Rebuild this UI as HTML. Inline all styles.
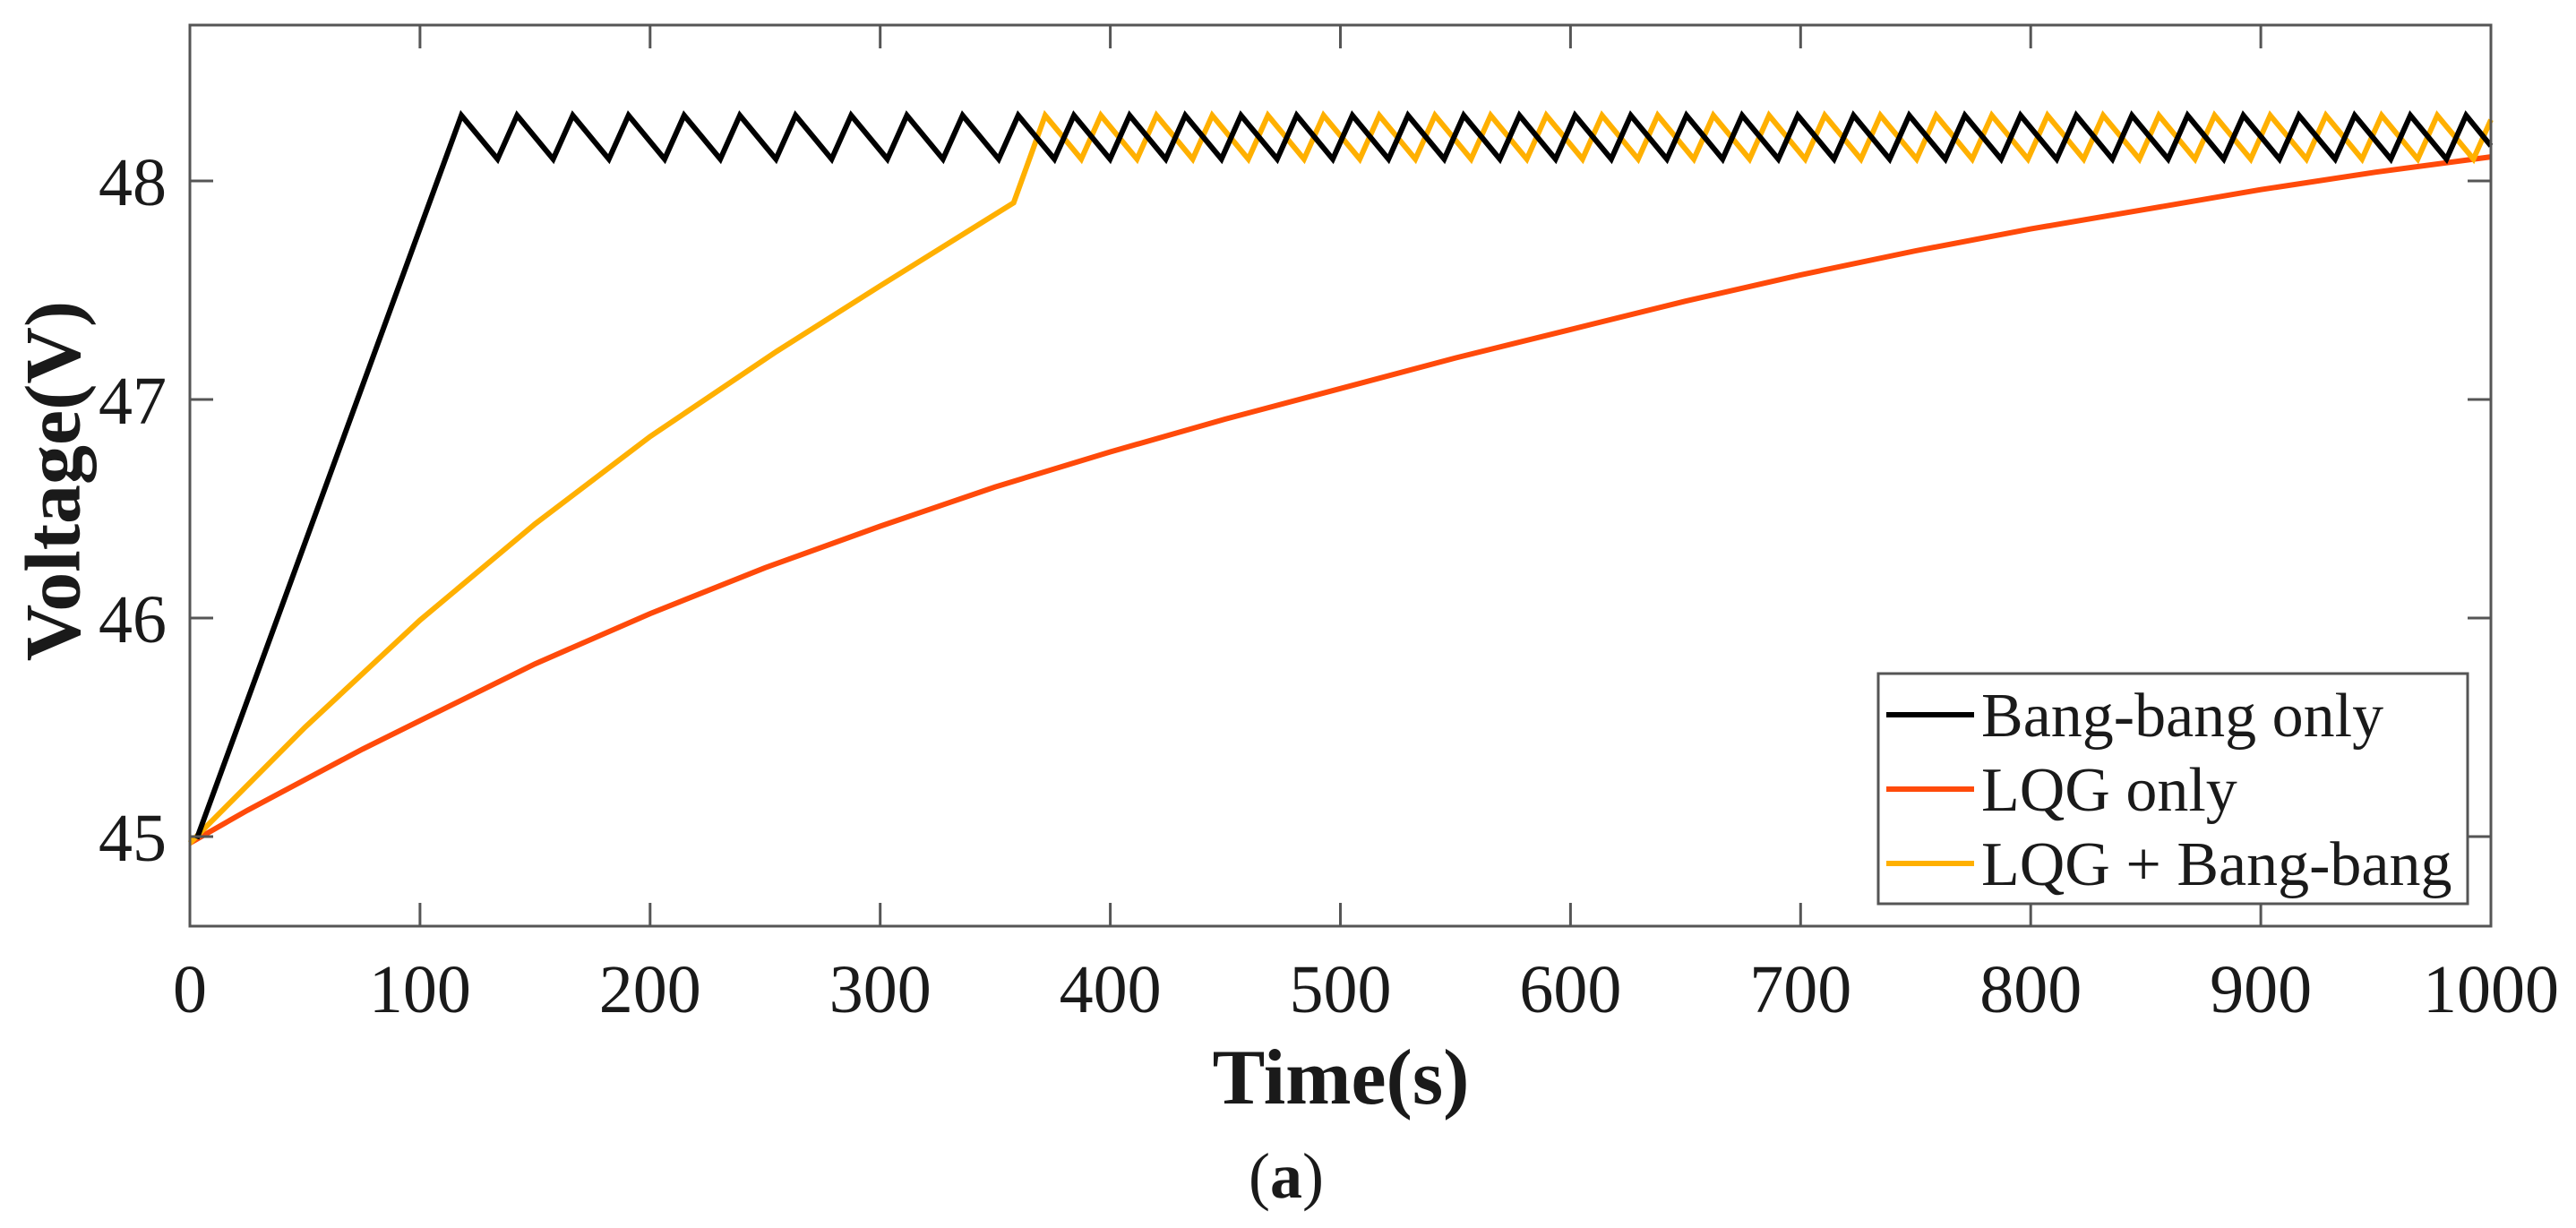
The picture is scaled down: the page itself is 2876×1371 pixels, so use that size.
<!DOCTYPE html>
<html><head><meta charset="utf-8"><style>
html,body{margin:0;padding:0;background:#fff;}
svg{display:block;}
text{font-family:"Liberation Serif",serif;fill:#1a1a1a;}
</style></head><body>
<svg id="chart" width="2876" height="1371" viewBox="0 0 2876 1371" xmlns="http://www.w3.org/2000/svg">
<rect width="2876" height="1371" fill="#fff"/>
<g id="series"></g>
<g id="axes"></g>
<text x="60" y="537" font-size="88" font-weight="bold" text-anchor="middle" transform="rotate(-90 60 537)" dominant-baseline="central">Voltage(V)</text>
<text x="1497" y="1232" font-size="88" font-weight="bold" text-anchor="middle">Time(s)</text>
<text x="1436" y="1337" font-size="72" text-anchor="middle">(<tspan font-weight="bold">a</tspan>)</text>
<g>
<rect x="2097" y="752" width="658" height="257" fill="#fff" stroke="#555" stroke-width="3"/>
<line x1="2106" y1="798" x2="2204" y2="798" stroke="#000" stroke-width="6"/>
<text x="2212" y="822" font-size="70">Bang-bang only</text>
<line x1="2106" y1="881" x2="2204" y2="881" stroke="#FF4A0A" stroke-width="6"/>
<text x="2212" y="905" font-size="70">LQG only</text>
<line x1="2106" y1="964" x2="2204" y2="964" stroke="#FFB000" stroke-width="6"/>
<text x="2212" y="988" font-size="70">LQG + Bang-bang</text>
</g>
</svg>
<script>
const xTicks = [0,100,200,300,400,500,600,700,800,900,1000];
const yTicks = [45,46,47,48];
const bbTime = [3,118,133.7,142.2,157.9,166.4,182.1,190.6,206.3,214.8,230.5,239,254.7,263.2,278.9,287.4,303.1,311.6,327.3,335.8,351.5,360,375.7,384.2,399.9,408.4,424.1,432.6,448.3,456.8,472.5,481,496.7,505.2,520.9,529.4,545.1,553.6,569.3,577.8,593.5,602,617.7,626.2,641.9,650.4,666.1,674.6,690.3,698.8,714.5,723,738.7,747.2,762.9,771.4,787.1,795.6,811.3,819.8,835.5,844,859.7,868.2,883.9,892.4,908.1,916.6,932.3,940.8,956.5,965,980.7,989.2,1000];
const bbVolt = [44.99,48.3,48.1,48.3,48.1,48.3,48.1,48.3,48.1,48.3,48.1,48.3,48.1,48.3,48.1,48.3,48.1,48.3,48.1,48.3,48.1,48.3,48.1,48.3,48.1,48.3,48.1,48.3,48.1,48.3,48.1,48.3,48.1,48.3,48.1,48.3,48.1,48.3,48.1,48.3,48.1,48.3,48.1,48.3,48.1,48.3,48.1,48.3,48.1,48.3,48.1,48.3,48.1,48.3,48.1,48.3,48.1,48.3,48.1,48.3,48.1,48.3,48.1,48.3,48.1,48.3,48.1,48.3,48.1,48.3,48.1,48.3,48.1,48.3,48.16];
const lqgTime = [0,25,50,75,100,150,200,250,300,350,400,450,500,550,600,650,700,750,800,850,900,950,1000];
const lqgVolt = [44.97,45.12,45.26,45.4,45.53,45.79,46.02,46.23,46.42,46.6,46.76,46.91,47.05,47.19,47.32,47.45,47.57,47.68,47.78,47.87,47.96,48.04,48.11];
const mixTime = [0,50,100,150,200,255,300,358,371.7,387.4,395.9,411.6,420.1,435.8,444.3,460,468.5,484.2,492.7,508.4,516.9,532.6,541.1,556.8,565.3,581,589.5,605.2,613.7,629.4,637.9,653.6,662.1,677.8,686.3,702,710.5,726.2,734.7,750.4,758.9,774.6,783.1,798.8,807.3,823,831.5,847.2,855.7,871.4,879.9,895.6,904.1,919.8,928.3,944,952.5,968.2,976.7,992.4,1000];
const mixVolt = [44.97,45.5,45.99,46.43,46.83,47.22,47.52,47.9,48.3,48.1,48.3,48.1,48.3,48.1,48.3,48.1,48.3,48.1,48.3,48.1,48.3,48.1,48.3,48.1,48.3,48.1,48.3,48.1,48.3,48.1,48.3,48.1,48.3,48.1,48.3,48.1,48.3,48.1,48.3,48.1,48.3,48.1,48.3,48.1,48.3,48.1,48.3,48.1,48.3,48.1,48.3,48.1,48.3,48.1,48.3,48.1,48.3,48.1,48.3,48.1,48.28];

const L=212,R=2781,T=28,B=1034, X0=0,X1=1000, Y0=44.59,Y1=48.713;
function sx(v){return L+(v-X0)/(X1-X0)*(R-L);}
function sy(v){return B-(v-Y0)/(Y1-Y0)*(B-T);}
const NS="http://www.w3.org/2000/svg";
function mk(tag,attrs,parent){const e=document.createElementNS(NS,tag);for(const k in attrs)e.setAttribute(k,attrs[k]);parent.appendChild(e);return e;}
const axes=document.getElementById('axes'), series=document.getElementById('series');

function drawLine(ts,vs,color,name){
  let d='';
  for(let i=0;i<ts.length;i++){d+=(i?'L':'M')+sx(ts[i]).toFixed(1)+' '+sy(vs[i]).toFixed(1);}
  const p=mk('path',{d:d,fill:'none',stroke:color,'stroke-width':6,'stroke-linejoin':'miter','stroke-miterlimit':10},series);
  
  
}
drawLine(lqgTime,lqgVolt,'#FF4A0A','line-lqg-only');
drawLine(mixTime,mixVolt,'#FFB000','line-lqg-bang-bang');
drawLine(bbTime,bbVolt,'#000000','line-bang-bang-only');

const frame=mk('rect',{x:L,y:T,width:R-L,height:B-T,fill:'none',stroke:'#555','stroke-width':3},axes);


xTicks.forEach(v=>{
  const x=sx(v);
  const t1=mk('line',{x1:x,y1:B,x2:x,y2:B-26,stroke:'#555','stroke-width':3},axes);
  
  
  const t2=mk('line',{x1:x,y1:T,x2:x,y2:T+26,stroke:'#555','stroke-width':3},axes);
  
  
  const lb=mk('text',{x:x,y:1130,'font-size':76,'text-anchor':'middle'},axes);
  lb.textContent=String(v);
  
  
});
yTicks.forEach(v=>{
  const y=sy(v);
  const t1=mk('line',{x1:L,y1:y,x2:L+26,y2:y,stroke:'#555','stroke-width':3},axes);
  
  
  const t2=mk('line',{x1:R,y1:y,x2:R-26,y2:y,stroke:'#555','stroke-width':3},axes);
  
  
  const lb=mk('text',{x:186,y:y+27,'font-size':76,'text-anchor':'end'},axes);
  lb.textContent=String(v);
  
  
});
</script>
</body></html>
